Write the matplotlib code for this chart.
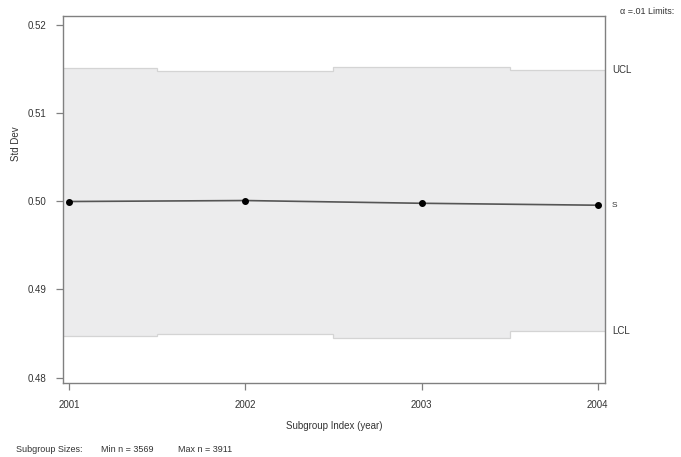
import matplotlib.pyplot as plt
import numpy as np

plt.rcParams['font.family'] = ['Liberation Sans', 'DejaVu Sans']

years = [2001, 2002, 2003, 2004]
std_dev = [0.49997, 0.50008, 0.49977, 0.49955]
ucl = [0.51506, 0.51480, 0.51522, 0.51492]
lcl = [0.48468, 0.48498, 0.48451, 0.48524]
yticks = [0.48, 0.49, 0.50, 0.51, 0.52]
min_n = 3569
max_n = 3911

txt = '#333333'
edge = '#808080'

fig = plt.figure(figsize=(6.81, 4.57), dpi=100)
ax = fig.add_axes([0.0925, 0.162, 0.7955, 0.803])
ax.set_xlim(2000.965, 2004.04)
ax.set_ylim(0.4794, 0.5210)

# step band of control limits, edges halfway between subgroups
x0, x1 = ax.get_xlim()
mids = [(a + b) / 2 for a, b in zip(years[:-1], years[1:])]
edges = [x0] + mids + [x1]
ax.stairs(ucl, edges, baseline=lcl, fill=True, color='#ececed', zorder=1)
ax.stairs(ucl, edges, baseline=None, color='#d4d4d4', lw=0.9, zorder=2)
ax.stairs(lcl, edges, baseline=None, color='#d4d4d4', lw=0.9, zorder=2)

ax.plot(years, std_dev, color='#555555', lw=1.2, zorder=3)
ax.plot(years, std_dev, 'o', color='black', ms=4, zorder=4)

for s in ax.spines.values():
    s.set_color(edge)
    s.set_linewidth(1.0)

ax.set_xticks(years)
ax.set_xticklabels([str(y) for y in years])
ax.set_yticks(yticks)
ax.set_yticklabels(['%.2f' % v for v in yticks])
ax.tick_params(axis='both', colors=edge, labelcolor=txt, labelsize=7,
               length=5, width=0.9, pad=7)

ax.set_xlabel('Subgroup Index (year)', fontsize=7, color=txt, labelpad=8)
ax.set_ylabel('Std Dev', fontsize=7, color=txt)
ax.yaxis.set_label_coords(-0.078, 0.653)

# labels for the limits on the right side
ax.text(1.013, ucl[-1], 'UCL', transform=ax.get_yaxis_transform(),
        fontsize=7, color=txt, va='center')
ax.text(1.013, std_dev[-1], 'S', transform=ax.get_yaxis_transform(),
        fontsize=6, color=txt, va='center')
ax.text(1.013, lcl[-1], 'LCL', transform=ax.get_yaxis_transform(),
        fontsize=7, color=txt, va='center')
fig.text(0.91, 0.974, '\u03b1 =.01 Limits:', fontsize=6.5, color=txt, va='center')

fig.text(0.023, 0.017, 'Subgroup Sizes:', fontsize=6.5, color=txt, va='center')
fig.text(0.149, 0.017, 'Min n = %d' % min_n, fontsize=6.5, color=txt, va='center')
fig.text(0.262, 0.017, 'Max n = %d' % max_n, fontsize=6.5, color=txt, va='center')

fig.savefig('out.png', dpi=100)
